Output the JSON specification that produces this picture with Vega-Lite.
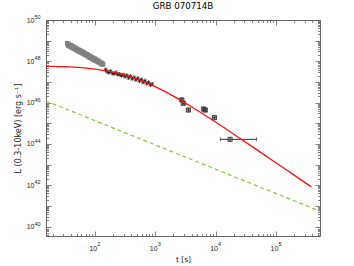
{
  "$schema": "https://vega.github.io/schema/vega-lite/v6.json",
  "autosize": "none",
  "width": 274,
  "height": 216,
  "padding": {"left": 46, "top": 20, "right": 34, "bottom": 30},
  "background": "white",
  "title": {"text": "GRB 070714B", "font": "DejaVu Sans", "fontSize": 8.7, "fontWeight": "normal", "color": "black", "anchor": "middle", "offset": 4},
  "config": {
    "view": {"stroke": null},
    "axis": {"grid": false, "domainColor": "#666", "domainWidth": 1, "tickColor": "#666", "tickWidth": 0.8, "labelFont": "Liberation Sans", "labelFontSize": 7, "labelColor": "#222", "titleFont": "DejaVu Sans", "titleFontSize": 8, "titleFontWeight": "normal", "titleColor": "#222", "labelOverlap": false, "labelFlush": false}
  },
  "datasets": {
    "gray": [
      {"t": 34.7, "L": 7.59e48}, {"t": 35.9, "L": 5.89e48}, {"t": 37.2, "L": 6.92e48}, {"t": 38.5, "L": 5.37e48},
      {"t": 39.8, "L": 5.75e48}, {"t": 41.2, "L": 4.57e48}, {"t": 42.7, "L": 5.37e48}, {"t": 44.2, "L": 4.37e48},
      {"t": 45.7, "L": 4.9e48}, {"t": 47.3, "L": 3.72e48}, {"t": 49.0, "L": 4.17e48}, {"t": 50.7, "L": 3.16e48},
      {"t": 52.5, "L": 3.63e48}, {"t": 54.3, "L": 3.09e48}, {"t": 56.2, "L": 3.47e48}, {"t": 58.2, "L": 2.82e48},
      {"t": 60.3, "L": 3.02e48}, {"t": 62.4, "L": 2.34e48}, {"t": 64.6, "L": 2.63e48}, {"t": 66.8, "L": 2.19e48},
      {"t": 69.2, "L": 2.45e48}, {"t": 71.6, "L": 2.0e48}, {"t": 74.1, "L": 2.14e48}, {"t": 76.7, "L": 1.7e48},
      {"t": 79.4, "L": 1.86e48}, {"t": 82.2, "L": 1.48e48}, {"t": 85.1, "L": 1.74e48}, {"t": 88.1, "L": 1.38e48},
      {"t": 91.2, "L": 1.51e48}, {"t": 94.4, "L": 1.2e48}, {"t": 97.7, "L": 1.32e48}, {"t": 101.2, "L": 1.07e48},
      {"t": 104.7, "L": 1.23e48}, {"t": 108.4, "L": 1.0e48}, {"t": 112.2, "L": 1.07e48}, {"t": 116.1, "L": 8.71e47},
      {"t": 120.2, "L": 9.33e47}, {"t": 124.5, "L": 7.76e47}, {"t": 128.8, "L": 8.51e47}, {"t": 133.4, "L": 7.08e47},
      {"t": 138.0, "L": 7.59e47},
      {"t": 35.3, "L": 6.61e48}, {"t": 36.5, "L": 5.5e48}, {"t": 37.8, "L": 6.31e48}, {"t": 39.1, "L": 5.01e48},
      {"t": 40.5, "L": 6.03e48}, {"t": 41.9, "L": 4.79e48}, {"t": 43.4, "L": 5.25e48}, {"t": 44.9, "L": 3.98e48},
      {"t": 46.5, "L": 4.47e48}, {"t": 48.1, "L": 3.89e48}, {"t": 49.8, "L": 4.27e48}, {"t": 51.6, "L": 3.39e48},
      {"t": 53.4, "L": 3.72e48}, {"t": 55.3, "L": 2.82e48}, {"t": 57.2, "L": 3.24e48}, {"t": 59.2, "L": 2.63e48},
      {"t": 61.3, "L": 3.09e48}, {"t": 63.5, "L": 2.51e48}, {"t": 65.7, "L": 2.69e48}, {"t": 68.0, "L": 2.04e48},
      {"t": 70.4, "L": 2.29e48}, {"t": 72.9, "L": 1.91e48}, {"t": 75.4, "L": 2.14e48}, {"t": 78.1, "L": 1.74e48},
      {"t": 80.8, "L": 1.86e48}, {"t": 83.7, "L": 1.48e48}, {"t": 86.6, "L": 1.62e48}, {"t": 89.7, "L": 1.29e48},
      {"t": 92.8, "L": 1.51e48}, {"t": 96.0, "L": 1.2e48}, {"t": 99.4, "L": 1.38e48}, {"t": 102.9, "L": 1.1e48},
      {"t": 106.5, "L": 1.17e48}, {"t": 110.3, "L": 9.33e47}, {"t": 114.1, "L": 1.07e48}, {"t": 118.1, "L": 8.91e47},
      {"t": 122.3, "L": 9.33e47}, {"t": 126.6, "L": 7.59e47}, {"t": 131.1, "L": 8.13e47}, {"t": 135.7, "L": 6.92e47}
    ],
    "black": [
      {"t": 151.4, "L": 3.98e47, "lo": 3.16e47, "hi": 5.01e47},
      {"t": 158.5, "L": 3.16e47, "lo": 2.51e47, "hi": 3.98e47},
      {"t": 169.8, "L": 2.82e47, "lo": 2.24e47, "hi": 3.55e47},
      {"t": 182.0, "L": 3.31e47, "lo": 2.63e47, "hi": 4.17e47},
      {"t": 195.0, "L": 2.63e47, "lo": 2.09e47, "hi": 3.31e47},
      {"t": 208.9, "L": 2.51e47, "lo": 1.99e47, "hi": 3.16e47},
      {"t": 223.9, "L": 2.88e47, "lo": 2.29e47, "hi": 3.63e47},
      {"t": 239.9, "L": 2.29e47, "lo": 1.82e47, "hi": 2.88e47},
      {"t": 257.0, "L": 2.4e47, "lo": 1.91e47, "hi": 3.02e47},
      {"t": 275.4, "L": 2.0e47, "lo": 1.59e47, "hi": 2.52e47},
      {"t": 295.1, "L": 2.24e47, "lo": 1.78e47, "hi": 2.82e47},
      {"t": 316.2, "L": 1.82e47, "lo": 1.45e47, "hi": 2.29e47},
      {"t": 338.8, "L": 2.09e47, "lo": 1.66e47, "hi": 2.63e47},
      {"t": 363.1, "L": 1.58e47, "lo": 1.25e47, "hi": 1.99e47},
      {"t": 389.0, "L": 1.91e47, "lo": 1.52e47, "hi": 2.4e47},
      {"t": 416.9, "L": 1.41e47, "lo": 1.12e47, "hi": 1.78e47},
      {"t": 446.7, "L": 1.66e47, "lo": 1.32e47, "hi": 2.09e47},
      {"t": 478.6, "L": 1.26e47, "lo": 1.0e47, "hi": 1.59e47},
      {"t": 512.9, "L": 1.51e47, "lo": 1.2e47, "hi": 1.9e47},
      {"t": 549.5, "L": 1.12e47, "lo": 8.9e46, "hi": 1.41e47},
      {"t": 588.8, "L": 1.32e47, "lo": 1.05e47, "hi": 1.66e47},
      {"t": 631.0, "L": 9.55e46, "lo": 7.58e46, "hi": 1.2e47},
      {"t": 676.1, "L": 1.15e47, "lo": 9.1e46, "hi": 1.45e47},
      {"t": 724.4, "L": 8.32e46, "lo": 6.61e46, "hi": 1.05e47},
      {"t": 776.2, "L": 9.55e46, "lo": 7.58e46, "hi": 1.2e47},
      {"t": 831.8, "L": 7.08e46, "lo": 5.62e46, "hi": 8.91e46},
      {"t": 891.3, "L": 7.94e46, "lo": 6.3e46, "hi": 1.0e47}
    ],
    "late": [
      {"t": 2754, "tlo": 2630, "thi": 2884, "L": 1.35e46, "lo": 1.12e46, "hi": 1.62e46},
      {"t": 2917, "tlo": 2786, "thi": 3055, "L": 9.33e45, "lo": 7.76e45, "hi": 1.12e46},
      {"t": 3548, "tlo": 3311, "thi": 3802, "L": 4.37e45, "lo": 3.63e45, "hi": 5.25e45},
      {"t": 6310, "tlo": 6026, "thi": 6607, "L": 4.9e45, "lo": 4.07e45, "hi": 5.89e45},
      {"t": 6761, "tlo": 6457, "thi": 7079, "L": 4.37e45, "lo": 3.63e45, "hi": 5.25e45},
      {"t": 9550, "tlo": 8913, "thi": 10233, "L": 1.86e45, "lo": 1.55e45, "hi": 2.24e45},
      {"t": 17380, "tlo": 12020, "thi": 47860, "L": 1.66e44, "lo": 1.38e44, "hi": 2.0e44}
    ],
    "red": [
      {"t": 15.5, "L": 5.89e47}, {"t": 30, "L": 5.53e47}, {"t": 60, "L": 4.9e47}, {"t": 100, "L": 4.2e47},
      {"t": 200, "L": 2.99e47}, {"t": 400, "L": 1.74e47}, {"t": 700, "L": 9.48e46}, {"t": 1000, "L": 5.95e46},
      {"t": 2000, "L": 2.07e46}, {"t": 4000, "L": 6.27e45}, {"t": 7000, "L": 2.24e45}, {"t": 10000, "L": 1.14e45},
      {"t": 20000, "L": 2.96e44}, {"t": 50000, "L": 4.86e43}, {"t": 100000, "L": 1.23e43}, {"t": 200000, "L": 3.08e42},
      {"t": 386000, "L": 8.29e41}
    ],
    "green": [
      {"t": 15.5, "L": 1.2e46}, {"t": 2884, "L": 2.57e43}, {"t": 537000, "L": 5.5e40}
    ]
  },
  "resolve": {"axis": {"x": "independent", "y": "independent"}},
  "layer": [
    {
      "data": {"name": "gray"},
      "mark": {"type": "square", "size": 18, "color": "#808080", "opacity": 1},
      "encoding": {
        "x": {"field": "t", "type": "quantitative", "scale": {"type": "log", "domain": [15.5, 537000], "nice": false},
          "axis": {"orient": "bottom", "title": "t [s]", "titlePadding": 2, "titleFontSize": 7.5, "labelPadding": 13, "labelOffset": -2,
            "values": [20,30,40,50,60,70,80,90,100,200,300,400,500,600,700,800,900,1000,2000,3000,4000,5000,6000,7000,8000,9000,10000,20000,30000,40000,50000,60000,70000,80000,90000,100000,200000,300000,400000,500000],
            "tickSize": {"condition": {"test": "abs(log(datum.value)/LN10-round(log(datum.value)/LN10))<0.001", "value": -5}, "value": -2.5},
            "labelExpr": "datum.value===100||datum.value===1000||datum.value===10000||datum.value===100000?'10':''"}},
        "y": {"field": "L", "type": "quantitative", "scale": {"type": "log", "domain": [3.47e39, 1e50], "nice": false},
          "axis": {"orient": "left", "title": "L (0.3-10keV) [erg s⁻¹]", "titlePadding": 4, "labelPadding": 17,
            "values": [4e39,5e39,6e39,7e39,8e39,9e39,1e40,2e40,3e40,4e40,5e40,6e40,7e40,8e40,9e40,1e41,2e41,3e41,4e41,5e41,6e41,7e41,8e41,9e41,1e42,2e42,3e42,4e42,5e42,6e42,7e42,8e42,9e42,1e43,2e43,3e43,4e43,5e43,6e43,7e43,8e43,9e43,1e44,2e44,3e44,4e44,5e44,6e44,7e44,8e44,9e44,1e45,2e45,3e45,4e45,5e45,6e45,7e45,8e45,9e45,1e46,2e46,3e46,4e46,5e46,6e46,7e46,8e46,9e46,1e47,2e47,3e47,4e47,5e47,6e47,7e47,8e47,9e47,1e48,2e48,3e48,4e48,5e48,6e48,7e48,8e48,9e48,1e49,2e49,3e49,4e49,5e49,6e49,7e49,8e49,9e49,1e50],
            "tickSize": {"condition": {"test": "abs(log(datum.value)/LN10-round(log(datum.value)/LN10))<0.001", "value": -5}, "value": -2.5},
            "labelExpr": "datum.value===1e40||datum.value===1e42||datum.value===1e44||datum.value===1e46||datum.value===1e48||datum.value===1e50?'10':''"}}
      }
    },
    {
      "data": {"name": "black"},
      "mark": {"type": "rule", "color": "#111", "strokeWidth": 0.8},
      "encoding": {
        "x": {"field": "t", "type": "quantitative", "scale": {"type": "log", "domain": [15.5, 537000], "nice": false}, "axis": null},
        "y": {"field": "lo", "type": "quantitative", "scale": {"type": "log", "domain": [3.47e39, 1e50], "nice": false}, "axis": null},
        "y2": {"field": "hi"}
      }
    },
    {
      "data": {"name": "black"},
      "mark": {"type": "point", "shape": "M-1,-1L1,1M-1,1L1,-1M-1,0L1,0", "size": 10, "filled": false, "stroke": "#111", "strokeWidth": 0.7, "opacity": 1},
      "encoding": {
        "x": {"field": "t", "type": "quantitative", "scale": {"type": "log", "domain": [15.5, 537000], "nice": false},
          "axis": {"orient": "bottom", "title": null, "domain": false, "ticks": false, "labelPadding": 5.5, "labelOffset": 3.5, "labelFontSize": 5.5,
            "values": [100, 1000, 10000, 100000],
            "labelExpr": "datum.value===100?'2':datum.value===1000?'3':datum.value===10000?'4':'5'"}},
        "y": {"field": "L", "type": "quantitative", "scale": {"type": "log", "domain": [3.47e39, 1e50], "nice": false},
          "axis": {"orient": "left", "title": null, "domain": false, "ticks": false, "labelPadding": 6, "labelOffset": -3.5, "labelFontSize": 5.5,
            "values": [1e40, 1e42, 1e44, 1e46, 1e48, 1e50],
            "labelExpr": "datum.value===1e40?'40':datum.value===1e42?'42':datum.value===1e44?'44':datum.value===1e46?'46':datum.value===1e48?'48':'50'"}}
      }
    },
    {
      "data": {"name": "late"},
      "mark": {"type": "errorbar", "ticks": {"size": 4}, "color": "#333"},
      "encoding": {
        "x": {"field": "t", "type": "quantitative", "scale": {"type": "log", "domain": [15.5, 537000], "nice": false}, "axis": null},
        "y": {"field": "lo", "type": "quantitative", "scale": {"type": "log", "domain": [3.47e39, 1e50], "nice": false}, "axis": null},
        "y2": {"field": "hi"}
      }
    },
    {
      "data": {"name": "late"},
      "mark": {"type": "errorbar", "ticks": {"size": 4}, "color": "#333"},
      "encoding": {
        "y": {"field": "L", "type": "quantitative", "scale": {"type": "log", "domain": [3.47e39, 1e50], "nice": false}, "axis": null},
        "x": {"field": "tlo", "type": "quantitative", "scale": {"type": "log", "domain": [15.5, 537000], "nice": false}, "axis": null},
        "x2": {"field": "thi"}
      }
    },
    {
      "data": {"name": "late"},
      "mark": {"type": "square", "size": 18, "filled": false, "stroke": "#333", "strokeWidth": 0.8, "opacity": 1},
      "encoding": {
        "x": {"field": "t", "type": "quantitative", "scale": {"type": "log", "domain": [15.5, 537000], "nice": false}, "axis": null},
        "y": {"field": "L", "type": "quantitative", "scale": {"type": "log", "domain": [3.47e39, 1e50], "nice": false}, "axis": null}
      }
    },
    {
      "data": {"name": "red"},
      "mark": {"type": "line", "color": "#ff1010", "strokeWidth": 1.3, "interpolate": "monotone"},
      "encoding": {
        "x": {"field": "t", "type": "quantitative", "scale": {"type": "log", "domain": [15.5, 537000], "nice": false},
          "axis": {"orient": "top", "title": null, "labels": false,
            "values": [20,30,40,50,60,70,80,90,100,200,300,400,500,600,700,800,900,1000,2000,3000,4000,5000,6000,7000,8000,9000,10000,20000,30000,40000,50000,60000,70000,80000,90000,100000,200000,300000,400000,500000],
            "tickSize": {"condition": {"test": "abs(log(datum.value)/LN10-round(log(datum.value)/LN10))<0.001", "value": -5}, "value": -2.5}}},
        "y": {"field": "L", "type": "quantitative", "scale": {"type": "log", "domain": [3.47e39, 1e50], "nice": false},
          "axis": {"orient": "right", "title": null, "labels": false,
            "values": [4e39,5e39,6e39,7e39,8e39,9e39,1e40,2e40,3e40,4e40,5e40,6e40,7e40,8e40,9e40,1e41,2e41,3e41,4e41,5e41,6e41,7e41,8e41,9e41,1e42,2e42,3e42,4e42,5e42,6e42,7e42,8e42,9e42,1e43,2e43,3e43,4e43,5e43,6e43,7e43,8e43,9e43,1e44,2e44,3e44,4e44,5e44,6e44,7e44,8e44,9e44,1e45,2e45,3e45,4e45,5e45,6e45,7e45,8e45,9e45,1e46,2e46,3e46,4e46,5e46,6e46,7e46,8e46,9e46,1e47,2e47,3e47,4e47,5e47,6e47,7e47,8e47,9e47,1e48,2e48,3e48,4e48,5e48,6e48,7e48,8e48,9e48,1e49,2e49,3e49,4e49,5e49,6e49,7e49,8e49,9e49,1e50],
            "tickSize": {"condition": {"test": "abs(log(datum.value)/LN10-round(log(datum.value)/LN10))<0.001", "value": -5}, "value": -2.5}}}
      }
    },
    {
      "data": {"name": "green"},
      "mark": {"type": "line", "color": "#8cc63c", "strokeWidth": 1.2, "strokeDash": [4, 3]},
      "encoding": {
        "x": {"field": "t", "type": "quantitative", "scale": {"type": "log", "domain": [15.5, 537000], "nice": false}, "axis": null},
        "y": {"field": "L", "type": "quantitative", "scale": {"type": "log", "domain": [3.47e39, 1e50], "nice": false}, "axis": null}
      }
    }
  ]
}
